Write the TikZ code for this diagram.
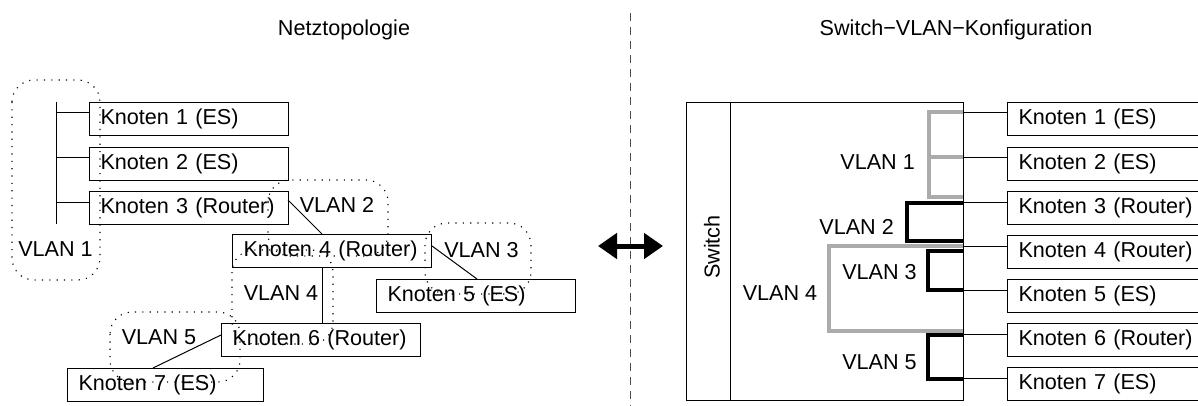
\documentclass[tikz,border=0pt]{standalone}
\usepackage{fontspec}
\setmainfont{Liberation Sans}
\usetikzlibrary{arrows.meta}
\tikzset{
  knot/.style={draw, line width=1pt, anchor=north west, minimum height=33pt,
    text width=177pt, inner xsep=11pt, inner ysep=0pt, align=left,
    font=\fontsize{21.6}{25}\selectfont},
  lbl/.style={inner sep=0pt, font=\fontsize{21.6}{25}\selectfont},
  wire/.style={line width=1pt},
  vlanblob/.style={line width=1.15pt, dash pattern=on 1.15pt off 6.2pt, rounded corners=22pt},
  grayport/.style={line width=4pt, draw=black!33},
  blackport/.style={line width=4pt, draw=black},
}
\begin{document}
\begin{tikzpicture}[x=1pt, y=-1pt]
\useasboundingbox (0,0) rectangle (1198,406);

% ---------- titles and divider ----------
\node[lbl] (t1) at (344,30) {Netztopologie};
\node[lbl] (t2) at (956,30) {Switch−VLAN−Konfiguration};
\draw[black!70, line width=1pt, dash pattern=on 8pt off 6pt] (630.5,13) -- (630.5,406);
\coordinate (al) at (598,246);
\coordinate (ar) at (663,246);
\draw[line width=5pt, {Triangle[length=19pt,width=25pt]}-{Triangle[length=19pt,width=25pt]}] (al) -- (ar);

% ---------- network topology ----------
\node[knot] (n1) at (89,102) {Knoten 1 (ES)};
\node[knot] (n2) at (89,147) {Knoten 2 (ES)};
\node[knot] (n3) at (89,191) {Knoten 3 (Router)};
\node[knot] (n4) at (232,234) {Knoten 4 (Router)};
\node[knot] (n5) at (376,279) {Knoten 5 (ES)};
\node[knot] (n6) at (221,323) {Knoten 6 (Router)};
\node[knot, text width=174pt] (n7) at (67,368) {Knoten 7 (ES)};

% bus of VLAN 1
\coordinate (bt) at (56,102);
\coordinate (bb) at (56,224);
\draw[wire] (bt) -- (bb);
\foreach \n in {n1,n2,n3}{
  \path (\n.north west) ++(0,11) coordinate (\n p);
  \draw[wire] (\n p) -- (\n p -| bt);
}

% router links
\coordinate (n3x) at (288,200);
\coordinate (n4t) at (322,234);
\draw[wire] (n3x) -- (n4t);
\coordinate (n4x) at (432,246);
\coordinate (n5t) at (477,279);
\draw[wire] (n4x) -- (n5t);
\coordinate (n4b) at (322,268);
\coordinate (n6t) at (322,323);
\draw[wire] (n4b) -- (n6t);
\coordinate (n6x) at (221,335);
\coordinate (n7t) at (153,368);
\draw[wire] (n6x) -- (n7t);

% VLAN regions
\draw[vlanblob] (12,80) rectangle (100,280);
\draw[vlanblob] (268,180) rectangle (388,256);
\draw[vlanblob] (425,223) rectangle (531,294);
\draw[vlanblob] (232,250) rectangle (333,344);
\draw[vlanblob] (110,312) rectangle (240,382);

\node[lbl] (v1) at (55.5,249) {VLAN 1};
\node[lbl] (v2) at (337,205) {VLAN 2};
\node[lbl] (v3) at (481.5,250) {VLAN 3};
\node[lbl] (v4) at (281,293.5) {VLAN 4};
\node[lbl] (v5) at (159,337.5) {VLAN 5};

% ---------- switch configuration ----------
\node[draw, line width=1pt, anchor=north west, minimum width=277pt, minimum height=298pt,
  inner sep=0pt] (sw) at (686,102) {};
\draw[wire] (730,102) -- (730,400);
\node[lbl, rotate=90] (swl) at (712,247) {Switch};

\node[knot] (r1) at (1007,102) {Knoten 1 (ES)};
\node[knot] (r2) at (1007,147) {Knoten 2 (ES)};
\node[knot] (r3) at (1007,191) {Knoten 3 (Router)};
\node[knot] (r4) at (1007,235) {Knoten 4 (Router)};
\node[knot] (r5) at (1007,279) {Knoten 5 (ES)};
\node[knot] (r6) at (1007,323) {Knoten 6 (Router)};
\node[knot] (r7) at (1007,367) {Knoten 7 (ES)};
\foreach \n in {r1,r2,r3,r4,r5,r6,r7}{
  \path (\n.north west) ++(0,11) coordinate (\n p);
  \draw[wire] (\n p) -- (\n p -| sw.east);
}

% port groups
\draw[grayport] (963,112) -- (929,112) -- (929,197) -- (963,197);
\draw[grayport] (929,157) -- (963,157);
\draw[blackport] (963,203) -- (907,203) -- (907,241) -- (963,241);
\draw[grayport] (963,246) -- (829,246) -- (829,331) -- (963,331);
\draw[blackport] (963,251) -- (928,251) -- (928,290) -- (963,290);
\draw[blackport] (963,335) -- (928,335) -- (928,379) -- (963,379);

\node[lbl, anchor=east] (w1) at (915,162) {VLAN 1};
\node[lbl, anchor=east] (w2) at (894,227) {VLAN 2};
\node[lbl] (w3) at (879.5,272) {VLAN 3};
\node[lbl] (w4) at (780,293) {VLAN 4};
\node[lbl] (w5) at (879.5,362) {VLAN 5};
\end{tikzpicture}
\end{document}
